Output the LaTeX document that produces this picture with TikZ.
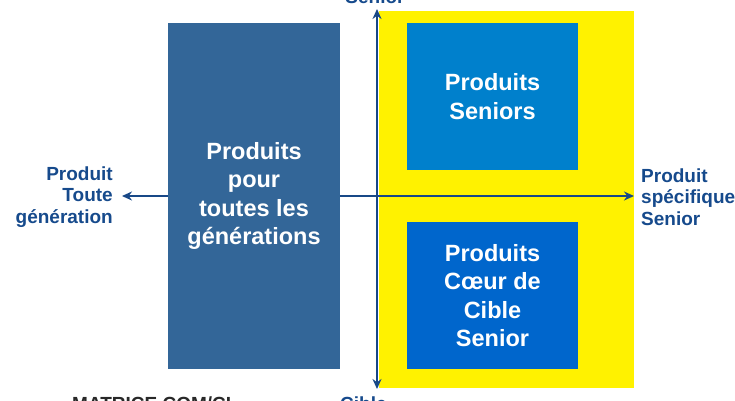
\documentclass[tikz,border=0pt]{standalone}
\usepackage{fontspec}
\setmainfont{Liberation Sans}
\usetikzlibrary{arrows.meta}
\definecolor{axisblue}{RGB}{24,72,135}
\definecolor{labelblue}{RGB}{22,74,140}
\definecolor{steelbox}{RGB}{51,102,152}
\definecolor{seniorbox}{RGB}{0,128,204}
\definecolor{coeurbox}{RGB}{0,102,204}
\definecolor{matgray}{RGB}{40,40,40}
\tikzset{
  bigbox/.style={draw=none, inner sep=0pt, text=white, align=center,
    font=\bfseries\fontsize{23.5}{28.3}\selectfont},
  axislbl/.style={text=labelblue, inner sep=0pt,
    font=\bfseries\fontsize{19}{21.5}\selectfont},
  axisline/.style={draw=axisblue, line width=2.4pt,
    {Stealth[length=10pt,width=9pt]}-{Stealth[length=10pt,width=9pt]}}
}
\begin{document}
\begin{tikzpicture}[x=1pt,y=-1pt]
\useasboundingbox (0,0) rectangle (735,400);
\clip (0,0) rectangle (735,400);
% yellow area
\fill[yellow] (379,11) rectangle (634,388);
% axes
\coordinate (L) at (122,196);
\coordinate (R) at (634,196);
\coordinate (T) at (377,9);
\coordinate (B) at (377,389);
\draw[axisline] (L) -- (R);
\draw[axisline] (T) -- (B);
% boxes
\node[bigbox, fill=steelbox, minimum width=172pt, minimum height=346pt] (gen) at (254,196)
  {Produits\\pour\\toutes les\\générations};
\node[bigbox, fill=seniorbox, minimum width=171pt, minimum height=147pt] (sen) at (492.5,96.5)
  {Produits\\Seniors};
\node[bigbox, fill=coeurbox, minimum width=171pt, minimum height=147pt] (coeur) at (492.5,295.5)
  {Produits\\Cœur de\\Cible\\Senior};
% axis labels
\node[axislbl, anchor=east, align=right] (lefttxt) at (113,197)
  {Produit\\Toute\\génération};
\node[axislbl, anchor=west, align=left] (righttxt) at (641,197)
  {Produit\\spécifique\\Senior};
\node[axislbl, anchor=base] (toptxt) at (375,3) {Senior};
\node[axislbl, anchor=base west] (bottxt) at (340,410) {Cible};
\node[axislbl, anchor=base west, text=matgray] (mat) at (72,410) {MATRICE COM/CI};
\end{tikzpicture}
\end{document}
